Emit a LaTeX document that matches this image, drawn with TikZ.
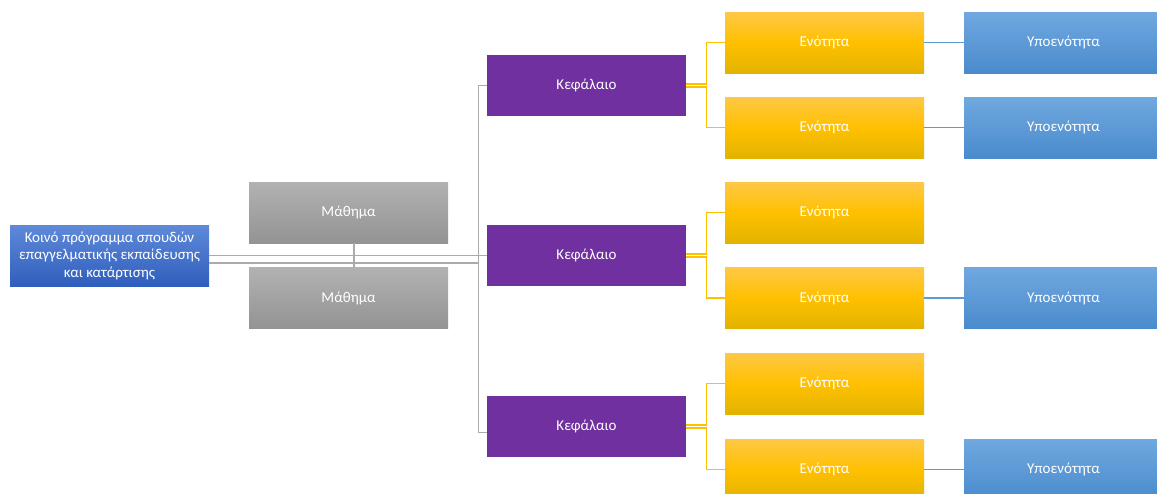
\documentclass[tikz,border=0pt]{standalone}
\usepackage{fontspec}
\setmainfont{Carlito}
\definecolor{rootTop}{HTML}{5F8AD9}
\definecolor{rootBot}{HTML}{2F5EBD}
\definecolor{lessonTop}{HTML}{B2B2B2}
\definecolor{lessonBot}{HTML}{939393}
\definecolor{chapterFill}{HTML}{7030A0}
\definecolor{unitTop}{HTML}{FFC846}
\definecolor{unitMid}{HTML}{FFC000}
\definecolor{unitBot}{HTML}{E2B300}
\definecolor{subTop}{HTML}{70A8DF}
\definecolor{subBot}{HTML}{4A8BCD}
\definecolor{lineGray}{HTML}{ABABAB}
\definecolor{lineGold}{HTML}{FFC000}
\definecolor{lineBlue}{HTML}{5B9BD5}
\tikzset{
  box/.style={minimum width=199pt,minimum height=61pt,inner sep=1pt,outer sep=0pt,
    text=white,align=center,font=\fontsize{15}{17.5}\selectfont},
  rootbox/.style={box,top color=rootTop,bottom color=rootBot},
  lessonbox/.style={box,top color=lessonTop,bottom color=lessonBot},
  chapterbox/.style={box,fill=chapterFill},
  unitbox/.style={box,top color=unitTop,bottom color=unitBot,middle color=unitMid},
  subbox/.style={box,top color=subTop,bottom color=subBot},
  grayline/.style={draw=lineGray,line width=1.9pt},
  goldline/.style={draw=lineGold,line width=1.7pt},
  blueline/.style={draw=lineBlue,line width=1.7pt}
}
\begin{document}
\begin{tikzpicture}[x=1pt,y=-1pt]
  \clip (0,0) rectangle (1157,493);
  \fill[white] (0,0) rectangle (1157,493);
  \node[rootbox] (root) at (109.5,255.5) {Κοινό πρόγραμμα σπουδών\\επαγγελματικής εκπαίδευσης\\και κατάρτισης};
  \node[lessonbox] (lesA) at (348.5,212.5) {Μάθημα};
  \node[lessonbox] (lesB) at (348.5,298) {Μάθημα};
  \node[chapterbox] (chA) at (586.5,85.5) {Κεφάλαιο};
  \node[chapterbox] (chB) at (586.5,255.5) {Κεφάλαιο};
  \node[chapterbox] (chC) at (586.5,426.5) {Κεφάλαιο};
  \node[unitbox] (unA) at (824.5,42.5) {Ενότητα};
  \node[unitbox] (unB) at (824.5,127.5) {Ενότητα};
  \node[unitbox] (unC) at (824.5,212.5) {Ενότητα};
  \node[unitbox] (unD) at (824.5,298) {Ενότητα};
  \node[unitbox] (unE) at (824.5,383.5) {Ενότητα};
  \node[unitbox] (unF) at (824.5,469.5) {Ενότητα};
  \node[subbox] (subA) at (1063.5,42.5) {Υποενότητα};
  \node[subbox] (subB) at (1063.5,127.5) {Υποενότητα};
  \node[subbox] (subD) at (1063.5,298) {Υποενότητα};
  \node[subbox] (subF) at (1063.5,469.5) {Υποενότητα};
  \coordinate (trunkTop) at (478.5,85.5);
  \coordinate (trunkBot) at (478.5,432.5);
  \coordinate (trunkMid) at (478.5,263);
  \draw[grayline] (root.east) -- (chB.west);
  \draw[grayline] ([yshift=-7.5]root.east) -- (trunkMid);
  \draw[grayline] (chA.west) -- (trunkTop) -- (trunkBot) -- ([yshift=-6]chC.west);
  \draw[grayline] ([xshift=5.5]lesA.south) -- ([xshift=5.5]lesB.north);
  \draw[goldline] ([yshift=1.5]chA.east) -- ++(20.5,0) |- (unA.west);
  \draw[goldline] ([yshift=-1.5]chA.east) -- ++(20.5,0) |- (unB.west);
  \draw[goldline] ([yshift=1.5]chB.east) -- ++(20.5,0) |- (unC.west);
  \draw[goldline] ([yshift=-1.5]chB.east) -- ++(20.5,0) |- (unD.west);
  \draw[goldline] ([yshift=1.5]chC.east) -- ++(20.5,0) |- (unE.west);
  \draw[goldline] ([yshift=-1.5]chC.east) -- ++(20.5,0) |- (unF.west);
  \draw[blueline] (unA.east) -- (subA.west);
  \draw[blueline] (unB.east) -- (subB.west);
  \draw[blueline] (unD.east) -- (subD.west);
  \draw[blueline] (unF.east) -- (subF.west);
\end{tikzpicture}
\end{document}
